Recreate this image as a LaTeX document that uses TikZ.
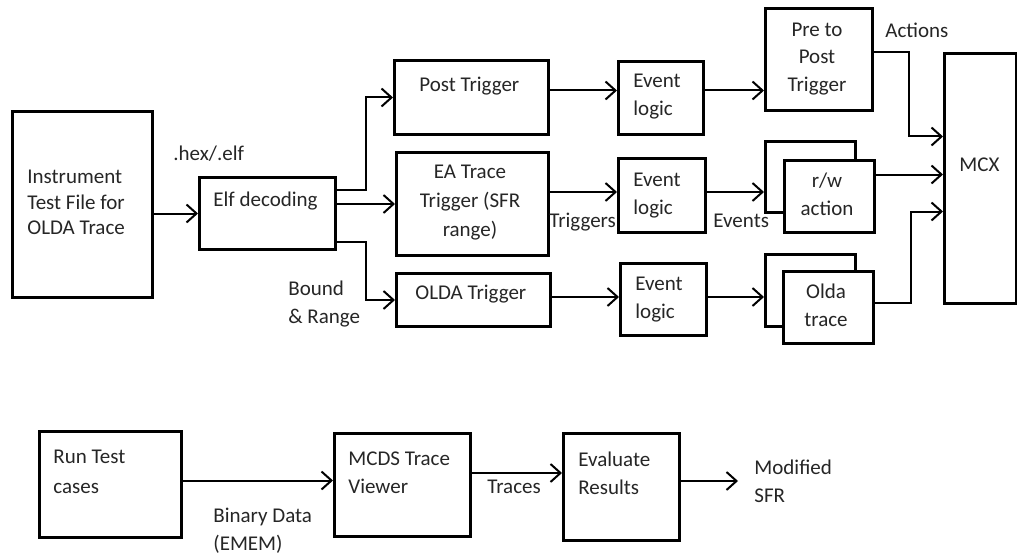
\documentclass[tikz,border=0pt]{standalone}
\usepackage{fontspec}
\setmainfont{Carlito}
\usetikzlibrary{arrows.meta,calc}
\tikzset{
  blk/.style={draw, line width=1.5pt, fill=white, inner sep=0pt, anchor=north west},
  conn/.style={line width=1pt, -{Straight Barb[length=5pt,width=9pt,line width=1pt]}},
  lbl/.style={inner sep=0pt, font=\fontsize{10.5}{14}\selectfont, text=black!85},
}
\newcommand\bx[5]{\node[blk, minimum width={(#4-#2)*0.5pt}, minimum height={(#5-#3)*0.5pt}] (#1) at (#2,#3) {};}
\begin{document}
\begin{tikzpicture}[x=0.5pt,y=-0.5pt]
\useasboundingbox[fill=white] (0,0) rectangle (1017,556);
% boxes
\bx{inst}{11}{110}{151}{296}
\bx{elf}{198}{176}{334}{248}
\bx{post}{393}{59}{547}{133}
\bx{el1}{617}{60}{702}{133}
\bx{pre}{764}{7}{871}{109}
\bx{ea}{395}{151}{547}{254}
\bx{el2}{617}{157}{704}{231}
\bx{rwb}{764}{140}{854}{211}
\bx{rwf}{783}{159}{873}{231}
\bx{olda}{395}{272}{549}{325}
\bx{el3}{619}{262}{705}{334}
\bx{oldab}{764}{253}{854}{325}
\bx{oldaf}{782}{270}{872}{342}
\bx{mcx}{943}{52}{1015}{302}
\bx{run}{38}{430}{180}{536}
\bx{mcds}{333}{432}{469}{535}
\bx{eval}{562}{432}{678}{539}
% texts (multi-line nodes are anchored at the baseline of their last line)
\node[lbl, anchor=base west, align=left, font=\fontsize{10.5}{12.5}\selectfont] (tinst) at (27,234) {Instrument\\Test File for\\OLDA Trace};
\node[lbl, anchor=base west] (thex) at (173,161) {.hex/.elf};
\node[lbl, anchor=base west] (telf) at (213,206) {Elf decoding};
\node[lbl, anchor=base west, align=left] (tbound) at (288,323) {Bound\\\& Range};
\node[lbl, anchor=base west] (tpost) at (419,91) {Post Trigger};
\node[lbl, anchor=base west, align=left] (tel1) at (633,116) {Event\\logic};
\node[lbl, anchor=base, align=center] (tpre) at (817,92) {Pre to\\Post\\Trigger};
\node[lbl, anchor=base west] (tact) at (885,38) {Actions};
\node[lbl, anchor=base west] (tmcx) at (959,171) {MCX};
\node[lbl, anchor=base, align=center, font=\fontsize{10.5}{14.5}\selectfont] (tea) at (470,236) {EA Trace\\Trigger (SFR\\range)};
\node[lbl, anchor=base west, align=left] (tel2) at (633,214) {Event\\logic};
\node[lbl, anchor=base west] (ttrig) at (549,227) {Triggers};
\node[lbl, anchor=base west] (tevents) at (713,227) {Events};
\node[lbl, anchor=base, align=center] (trw) at (827,215) {r/w\\action};
\node[lbl, anchor=base west] (tolda) at (415,299) {OLDA Trigger};
\node[lbl, anchor=base west, align=left] (tel3) at (635,318) {Event\\logic};
\node[lbl, anchor=base, align=center] (toldatr) at (826,326) {Olda\\trace};
\node[lbl, anchor=base west, align=left, font=\fontsize{10.5}{15}\selectfont] (trun) at (53,493) {Run Test\\cases};
\node[lbl, anchor=base west, align=left] (tbin) at (213,550) {Binary Data\\(EMEM)};
\node[lbl, anchor=base west, align=left] (tmcds) at (348,493) {MCDS Trace\\Viewer};
\node[lbl, anchor=base west] (ttraces) at (487,493) {Traces};
\node[lbl, anchor=base west, align=left] (teval) at (578,494) {Evaluate\\Results};
\node[lbl, anchor=base west, align=left] (tmod) at (754,502) {Modified\\SFR};
% connectors
\draw[conn] (elf.west -| inst.east) -- (elf.west);
\draw[conn] ([yshift=12pt]elf.east) -- ++(14.5pt,0) |- (post.west);
\draw[conn] (elf.east |- ea.west) -- (ea.west);
\draw[conn] ([yshift=-14pt]elf.east) -- ++(14.5pt,0) |- (olda.west);
\coordinate (r1) at ([yshift=3.5pt]post.east);
\draw[conn] (r1) -- (r1 -| el1.west);
\draw[conn] (r1 -| el1.east) -- (r1 -| pre.west);
\draw[conn] ([yshift=3.5pt]pre.east) -- ++(17.5pt,0) |- ([yshift=21pt]mcx.west);
\coordinate (r2) at ([yshift=6pt]ea.east);
\draw[conn] (r2) -- (r2 -| el2.west);
\draw[conn] (r2 -| el2.east) -- (r2 -| rwb.west);
\draw[conn] ([yshift=11pt]rwf.east) -- ([yshift=11pt]rwf.east -| mcx.west);
\coordinate (r3) at ([yshift=1.5pt]olda.east);
\draw[conn] (r3) -- (r3 -| el3.west);
\draw[conn] (r3 -| el3.east) -- (r3 -| oldab.west);
\draw[conn] ([yshift=2.5pt]oldaf.east) -- ++(18pt,0) |- ([yshift=-16.5pt]mcx.west);
\draw[conn] ([yshift=2pt]run.east) -- ([yshift=2pt]run.east -| mcds.west);
\draw[conn] ([yshift=6pt]mcds.east) -- ([yshift=6pt]mcds.east -| eval.west);
\coordinate (modend) at (738,481);
\draw[conn] (eval.east |- modend) -- (modend);
\end{tikzpicture}
\end{document}
